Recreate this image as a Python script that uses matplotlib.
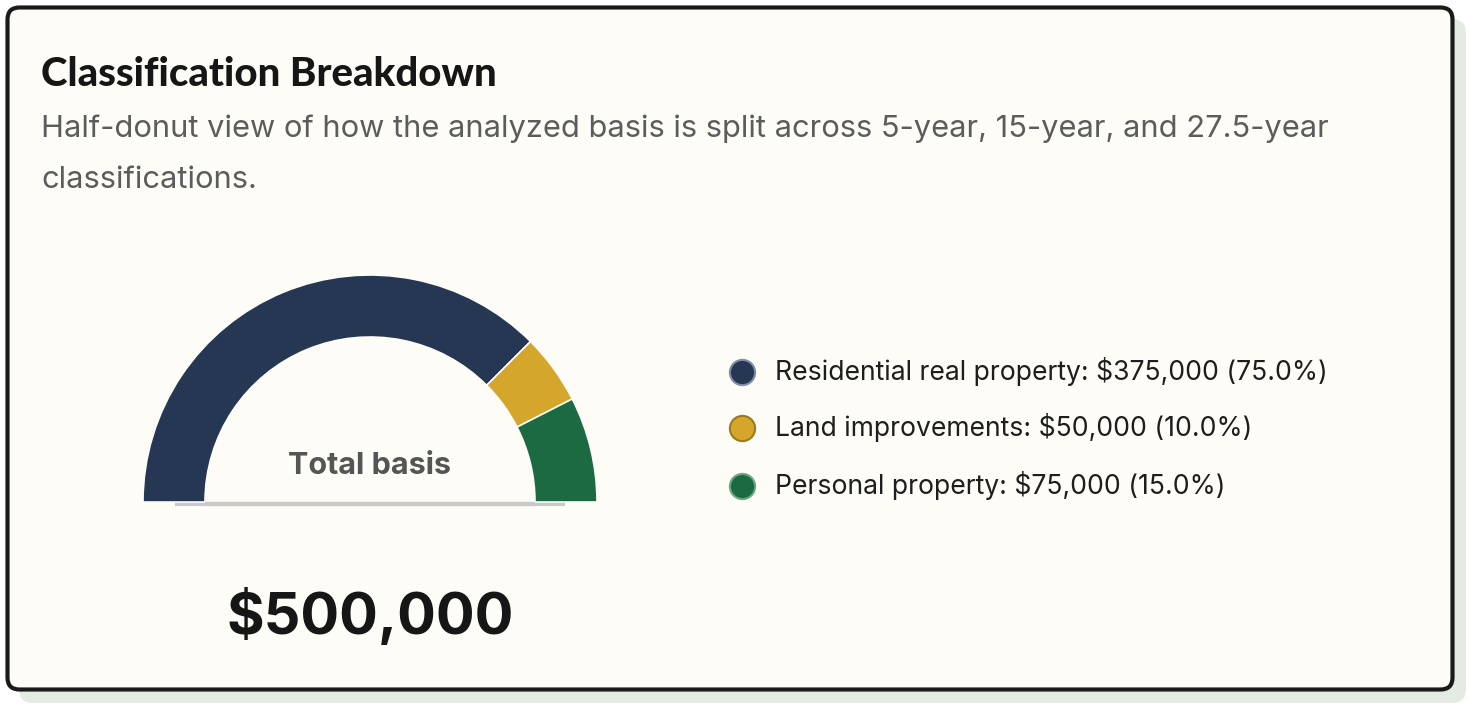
import matplotlib.pyplot as plt
from matplotlib.patches import FancyBboxPatch

# datos
labels = ["Residential real property", "Land improvements", "Personal property"]
values = [375000, 50000, 75000]
colors = ["#253752", "#d4a72c", "#1b6a42"]
edge_colors = ["#7f8ea6", "#9c7a1c", "#6fa585"]
title = "Classification Breakdown"
subtitle = ["Half-donut view of how the analyzed basis is split across 5-year, 15-year, and 27.5-year",
            "classifications."]
center_label = "Total basis"

total = sum(values)
bg = "#fdfcf7"

W, H = 1470, 708
fig = plt.figure(figsize=(W / 100, H / 100), dpi=100)
fig.patch.set_facecolor("white")

ax = fig.add_axes([0, 0, 1, 1])
ax.set_xlim(0, W)
ax.set_ylim(H, 0)
ax.axis("off")

# tarjeta con sombra
ax.add_patch(FancyBboxPatch((19, 19), 1447, 684, boxstyle="round,pad=0,rounding_size=14",
                            facecolor="#e3ebe3", edgecolor="none", zorder=0))
ax.add_patch(FancyBboxPatch((7.5, 7.5), 1445, 682, boxstyle="round,pad=0,rounding_size=12",
                            facecolor=bg, edgecolor="#1a1a1a", linewidth=3, zorder=1))

ax.text(41, 86, title, fontsize=28.9, fontweight="black", family="Lato", color="#161616",
        va="baseline", zorder=3)
ax.text(41, 137, subtitle[0], fontsize=22.2, family="Inter", color="#5c5c5c", va="baseline", zorder=3)
ax.text(41, 188, subtitle[1], fontsize=22.2, family="Inter", color="#5c5c5c", va="baseline", zorder=3)

# medio donut
cx, cy, r = 370, 502, 227
pax = fig.add_axes([(cx - r) / W, (H - cy - r) / H, 2 * r / W, 2 * r / H])
wedges, _ = pax.pie(values + [total], colors=colors + ["none"], startangle=180, counterclock=False,
                    radius=1, wedgeprops=dict(width=1 - 165 / 227, edgecolor=bg, linewidth=1.2))
wedges[-1].set_visible(False)
pax.set_xlim(-1, 1)
pax.set_ylim(-1, 1)
pax.axis("off")
pax.patch.set_alpha(0)

# línea base y textos por encima del donut
ax2 = fig.add_axes([0, 0, 1, 1])
ax2.set_xlim(0, W)
ax2.set_ylim(H, 0)
ax2.axis("off")
ax2.patch.set_alpha(0)
ax2.plot([205, 535], [503.5, 503.5], color="#c9c9c9", linewidth=3, solid_capstyle="butt")
ax.plot([175, 565], [503.5, 503.5], color="#c9c9c9", linewidth=3, solid_capstyle="butt", zorder=2)

ax2.text(cx, 466, center_label, fontsize=22, fontweight="bold", family="Inter", color="#555555",
         ha="center", va="center")
ax2.text(cx, 617, f"${total:,.0f}", fontsize=41.4, fontweight="bold", family="Inter", color="#161616",
         ha="center", va="center")

# leyenda
ys = [372, 428, 486]
for lab, v, c, ec, y in zip(labels, values, colors, edge_colors, ys):
    ax2.scatter([742], [y], s=330, color=c, edgecolors=ec, linewidths=1.5)
    ax2.text(775, y, f"{lab}: ${v:,.0f} ({v / total * 100:.1f}%)", fontsize=19.1, family="Inter",
             color="#1e1e1e", va="center")

fig.savefig("out.png", dpi=100, facecolor=fig.get_facecolor())
